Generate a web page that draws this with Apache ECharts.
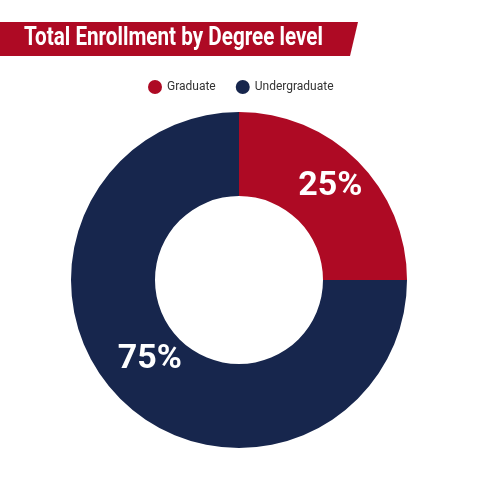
<!DOCTYPE html>
<html><head><meta charset="utf-8">
<script src="https://cdn.jsdelivr.net/npm/echarts@6/dist/echarts.min.js"></script>
<style>html,body{margin:0;padding:0;background:#fff}#c{width:480px;height:480px}</style>
</head><body><div id="c"></div>
<script>
const titleText = 'Total Enrollment by Degree level';
const categories = ['Graduate', 'Undergraduate'];
const values = [25, 75];
const colors = ['#AE0A24', '#17264D'];
const FONT = 'Roboto';

const titleFont = 'bold 26px ' + FONT;
const mctx = document.createElement('canvas').getContext('2d');
mctx.font = titleFont;
const titleScale = 299 / mctx.measureText(titleText).width;

const labelOffsets = [[0, -2], [2, -12]];

const chart = echarts.init(document.getElementById('c'));
chart.setOption({
  animation: false,
  backgroundColor: '#fff',
  graphic: [
    { type: 'polygon', shape: { points: [[0,22],[358,22],[350,56],[0,56]] }, style: { fill: '#AE0A24' } },
    { type: 'text', x: 24, y: 38, scaleX: titleScale, scaleY: 1,
      style: { x: 0, y: 0, text: titleText, fill: '#fff', font: titleFont, verticalAlign: 'middle' } }
  ],
  legend: {
    top: 75, left: 143,
    icon: 'circle', itemWidth: 14, itemHeight: 14, itemGap: 20,
    textStyle: { fontFamily: FONT, fontSize: 12, color: '#333' },
    data: categories
  },
  series: [{
    type: 'pie',
    center: [239, 280],
    radius: [84, 168],
    startAngle: 90,
    clockwise: true,
    label: {
      position: 'inside',
      formatter: '{d}%',
      color: '#fff',
      fontFamily: FONT,
      fontWeight: 'bold',
      fontSize: 34
    },
    labelLine: { show: false },
    emphasis: { disabled: true },
    data: categories.map((c, i) => ({ name: c, value: values[i], itemStyle: { color: colors[i] }, label: { offset: labelOffsets[i] } }))
  }]
});
</script></body></html>
